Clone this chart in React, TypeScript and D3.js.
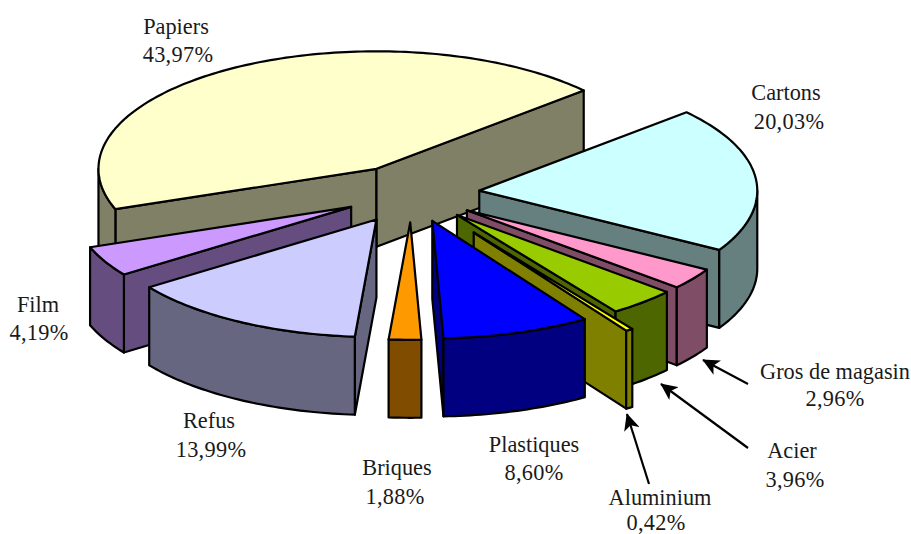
import React from "react";
import * as d3 from "d3";

const categories = ["Cartons", "Gros de magasin", "Acier", "Aluminium", "Plastiques", "Briques", "Refus", "Film", "Papiers"];
const percents = [20.03, 2.96, 3.96, 0.42, 8.6, 1.88, 13.99, 4.19, 43.97];
const percentLabels = ["20,03%", "2,96%", "3,96%", "0,42%", "8,60%", "1,88%", "13,99%", "4,19%", "43,97%"];
const explode = [0.245, 0.245, 0.245, 0.4, 0.245, 0.245, 0.255, 0.245, 0.245];
const topColors = ["#CCFFFF", "#FF99CC", "#99CC00", "#FFFF00", "#0000FF", "#FF9900", "#CCCCFF", "#CC99FF", "#FFFFCC"];
const wallColors = ["#668080", "#804D66", "#4D6600", "#808000", "#000080", "#804D00", "#666680", "#664D80", "#808066"];
const paintOrder = ["Papiers", "Film", "Cartons", "Gros de magasin", "Acier", "Refus", "Briques", "Aluminium", "Plastiques"];

const labelCenters: [number, number, number, number][] = [
  [786, 100, 789, 129],
  [835, 379, 835, 406],
  [792, 458, 795, 487],
  [660, 505, 656, 530],
  [534, 452, 534, 480],
  [397, 475, 395, 504],
  [209, 428, 211, 457],
  [38, 312, 39, 340],
  [176, 34, 178, 62],
];
const arrows: [number, number, number, number][] = [
  [748, 384, 703, 360],
  [748, 448, 661, 384],
  [649, 484, 627, 414],
];

const W = 911;
const H = 534;
const RX = 278;
const RY = 117.5;
const DEPTH = 78;
const CX = 411.5;
const CY = 193.5;
const START_DEG = 48.2;

const x = d3.scaleLinear().domain([-1, 1]).range([CX - RX, CX + RX]);
const y = d3.scaleLinear().domain([-1, 1]).range([CY - RY, CY + RY]);
const line = d3.line<[number, number]>().x((d) => d[0]).y((d) => d[1]);

const pie = d3
  .pie<number>()
  .sort(null)
  .startAngle((START_DEG * Math.PI) / 180)
  .endAngle((START_DEG * Math.PI) / 180 + 2 * Math.PI);

type Slice = {
  name: string;
  apex: [number, number];
  start: number;
  end: number;
  top: string;
  wall: string;
};

const slices: Slice[] = pie(percents).map((a, i) => {
  const mid = (a.startAngle + a.endAngle) / 2;
  return {
    name: categories[i],
    apex: [x(explode[i] * Math.sin(mid)), y(-explode[i] * Math.cos(mid))],
    start: a.startAngle,
    end: a.endAngle,
    top: topColors[i],
    wall: wallColors[i],
  };
});

function rim(s: Slice, a: number): [number, number] {
  return [s.apex[0] + (x(Math.sin(a)) - CX), s.apex[1] + (y(-Math.cos(a)) - CY)];
}
function arcPoints(s: Slice, a0: number, a1: number): [number, number][] {
  const n = Math.max(2, Math.ceil(Math.abs(a1 - a0) / 0.02));
  return d3.range(n + 1).map((k) => rim(s, a0 + ((a1 - a0) * k) / n));
}
const drop = (p: [number, number]): [number, number] => [p[0], p[1] + DEPTH];

function SliceMark({ s }: { s: Slice }) {
  const common = { stroke: "#000", strokeWidth: 2.2, strokeLinejoin: "round" as const };
  const a = rim(s, s.start);
  const b = rim(s, s.end);
  const faces: React.ReactNode[] = [];
  if (a[0] < s.apex[0]) {
    faces.push(<path key="s" d={line([s.apex, a, drop(a), drop(s.apex)]) + "Z"} fill={s.wall} {...common} />);
  }
  if (b[0] > s.apex[0]) {
    faces.push(<path key="e" d={line([s.apex, b, drop(b), drop(s.apex)]) + "Z"} fill={s.wall} {...common} />);
  }
  // The outer rim faces the viewer on the lower half of the ellipse, pie angles 90 to 270 degrees.
  const lo = Math.max(s.start, Math.PI / 2);
  const hi = Math.min(s.end, (3 * Math.PI) / 2);
  if (hi > lo) {
    const upper = arcPoints(s, lo, hi);
    const lower = upper.map(drop).reverse();
    faces.push(<path key="r" d={line([...upper, ...lower]) + "Z"} fill={s.wall} {...common} />);
  }
  const topPts = [s.apex, ...arcPoints(s, s.start, s.end)];
  return (
    <g>
      {faces}
      <path d={line(topPts) + "Z"} fill={s.top} {...common} />
    </g>
  );
}

export default function App() {
  const ordered = paintOrder.map((n) => slices.find((s) => s.name === n)!);
  return (
    <svg
      width={W}
      height={H}
      viewBox={`0 0 ${W} ${H}`}
      style={{ position: "absolute", left: 0, top: 0, background: "#fff", display: "block" }}
    >
      <defs>
        <marker id="head" viewBox="0 0 10 10" refX="9.5" refY="5" markerWidth="17" markerHeight="16" markerUnits="userSpaceOnUse" orient="auto" preserveAspectRatio="none">
          <path d="M0,0 L10,5 L0,10 L2.5,5 Z" fill="#000" />
        </marker>
      </defs>
      {ordered.map((s) => (
        <SliceMark key={s.name} s={s} />
      ))}
      {arrows.map((a, i) => (
        <line key={i} x1={a[0]} y1={a[1]} x2={a[2]} y2={a[3]} stroke="#000" strokeWidth={2.2} markerEnd="url(#head)" />
      ))}
      <g fontFamily="'Liberation Serif', serif" fontSize={22.3} fill="#1a1a1a" textAnchor="middle">
        {categories.map((c, i) => (
          <g key={c}>
            <text x={labelCenters[i][0]} y={labelCenters[i][1]}>{c}</text>
            <text x={labelCenters[i][2]} y={labelCenters[i][3]} letterSpacing={0.3}>{percentLabels[i]}</text>
          </g>
        ))}
      </g>
    </svg>
  );
}
